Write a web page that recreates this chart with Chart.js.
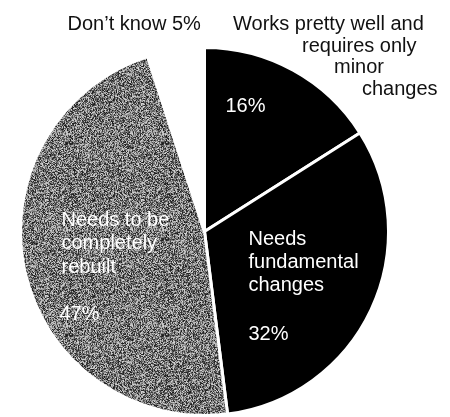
<!DOCTYPE html>
<html>
<head>
<meta charset="utf-8">
<title>Pie</title>
<script src="https://cdn.jsdelivr.net/npm/chart.js@4/dist/chart.umd.min.js"></script>
<style>
  html, body { margin: 0; padding: 0; background: #fff; }
  canvas { display: block; }
</style>
</head>
<body>
<canvas id="pie" width="450" height="417"></canvas>
<script>
// --- datos ---
const categories = [
  'Works pretty well and requires only minor changes',
  'Needs fundamental changes',
  'Needs to be completely rebuilt',
  "Don\u2019t know"
];
const shares = [16, 32, 47, 5];

// texto de las etiquetas (una entrada por línea)
const labelMinor = ['Works pretty well and', 'requires only', 'minor', 'changes'];
const labelFundamental = ['Needs', 'fundamental', 'changes'];
const labelRebuilt = ['Needs to be', 'completely', 'rebuilt'];
const labelDontKnow = "Don\u2019t know 5%";

// textura gris (ruido determinista, solo estilo)
function makeNoise() {
  const c = document.createElement('canvas');
  c.width = 96; c.height = 96;
  const ctx = c.getContext('2d');
  const img = ctx.createImageData(96, 96);
  let seed = 12345;
  for (let i = 0; i < 96 * 96; i++) {
    seed = (seed * 1103515245 + 12345) & 0x7fffffff;
    const v = Math.floor(((seed >> 8) % 1000) / 1000 * 190) + 25;
    img.data[i * 4] = v;
    img.data[i * 4 + 1] = v;
    img.data[i * 4 + 2] = v;
    img.data[i * 4 + 3] = 255;
  }
  ctx.putImageData(img, 0, 0);
  return ctx.createPattern(c, 'repeat');
}

const canvas = document.getElementById('pie');
const grey = makeNoise();

// etiquetas dibujadas respecto al centro del pastel
const pieLabels = {
  id: 'pieLabels',
  afterDatasetsDraw(chart) {
    const arc = chart.getDatasetMeta(0).data[0];
    const cx = arc.x, cy = arc.y;
    const ctx = chart.ctx;
    ctx.save();
    ctx.font = '20px "Liberation Sans", Arial, sans-serif';
    ctx.textBaseline = 'alphabetic';
    ctx.textAlign = 'left';

    // fuera del pastel, texto negro
    ctx.fillStyle = '#111';
    ctx.fillText(labelDontKnow, cx - 137, cy - 202);
    const minorX = [233, 302, 334, 362];
    const minorY = [30, 52, 73.5, 95];
    labelMinor.forEach((t, i) => ctx.fillText(t, minorX[i], minorY[i] + (cy - 232)));

    // dentro, texto blanco
    ctx.fillStyle = '#fff';
    ctx.fillText(shares[0] + '%', cx + 21, cy - 120);
    labelFundamental.forEach((t, i) => ctx.fillText(t, cx + 44, cy + 13 + i * 23));
    ctx.fillText(shares[1] + '%', cx + 44, cy + 108);
    labelRebuilt.forEach((t, i) => ctx.fillText(t, cx - 143, cy - 6 + i * 23.5));
    ctx.fillText(shares[2] + '%', cx - 145, cy + 88);
    ctx.restore();
  }
};

new Chart(canvas, {
  type: 'pie',
  data: {
    labels: categories,
    datasets: [{
      data: shares,
      backgroundColor: ['#000', '#000', grey, '#fff'],
      borderColor: '#fff',
      borderWidth: 3
    }]
  },
  options: {
    responsive: false,
    animation: false,
    layout: { padding: { top: 46, bottom: 0, left: 19, right: 60 } },
    plugins: {
      legend: { display: false },
      tooltip: { enabled: false }
    }
  },
  plugins: [pieLabels]
});
</script>
</body>
</html>
